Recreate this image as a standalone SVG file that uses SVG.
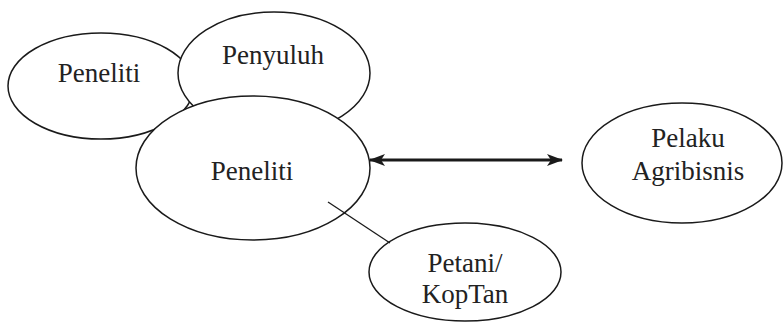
<svg xmlns="http://www.w3.org/2000/svg" width="784" height="326" viewBox="0 0 784 326">
<style>
.n{fill:#fff;stroke:#1a1a1a;stroke-width:1.5}
.t{font-family:"Liberation Serif","Times New Roman",serif;font-size:27px;fill:#222;text-anchor:middle}
.c{stroke:#1a1a1a;fill:none}
</style>
<defs>
<marker id="ah" viewBox="0 0 16 12" refX="15" refY="6" markerWidth="16" markerHeight="12" markerUnits="userSpaceOnUse" orient="auto-start-reverse">
<path d="M0,0 L16,6 L0,12 L4,6 Z" fill="#1a1a1a"/>
</marker>
</defs>
<rect width="784" height="326" fill="#fff"/>
<g id="peneliti-1"><ellipse class="n" cx="101" cy="86" rx="93" ry="53"/><text class="t" x="99" y="82">Peneliti</text></g>
<g id="penyuluh"><ellipse class="n" cx="274" cy="73" rx="96" ry="61"/><text class="t" x="273" y="64">Penyuluh</text></g>
<g id="peneliti-2"><ellipse class="n" cx="253" cy="168" rx="117" ry="72"/><text class="t" x="252" y="180">Peneliti</text></g>
<g id="pelaku"><ellipse class="n" cx="682" cy="163" rx="100" ry="60"/><text class="t" x="688" y="147">Pelaku</text><text class="t" x="688" y="180">Agribisnis</text></g>
<g id="petani"><ellipse class="n" cx="465" cy="272" rx="96" ry="49"/><text class="t" x="465" y="272">Petani/</text><text class="t" x="465" y="303">KopTan</text></g>
<g id="connectors">
<line class="c" x1="328" y1="202" x2="390" y2="243" stroke-width="1.3"/>
<line class="c" x1="370" y1="160" x2="562" y2="160" stroke-width="2.8" marker-start="url(#ah)" marker-end="url(#ah)"/>
</g>
</svg>
